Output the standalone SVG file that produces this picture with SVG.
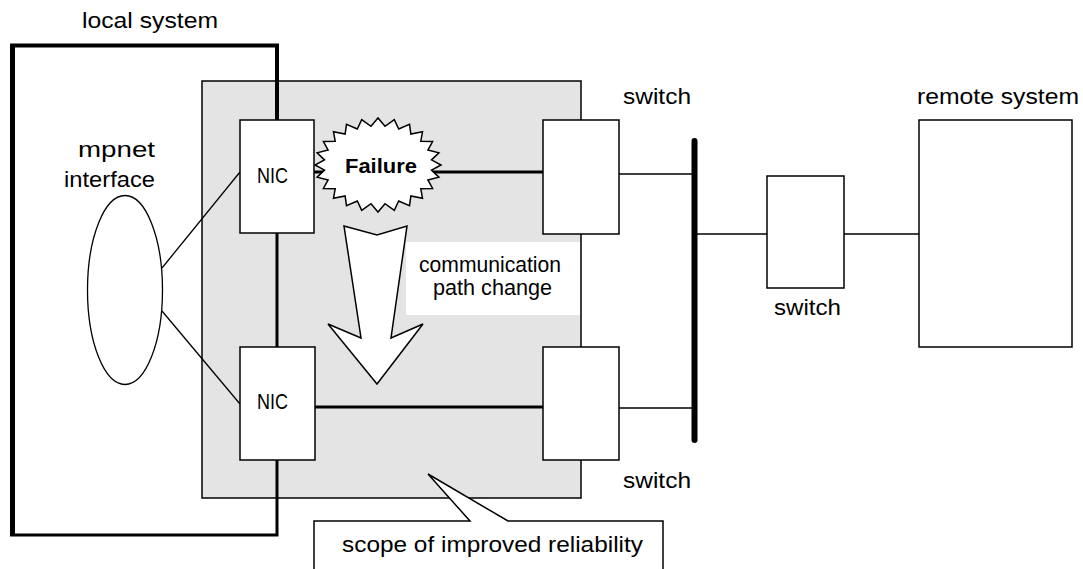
<svg xmlns="http://www.w3.org/2000/svg" width="1083" height="569" viewBox="0 0 1083 569">
<style>
text{font-family:"Liberation Sans",Arial,sans-serif;font-size:22px;fill:#000}
.b{font-weight:bold;font-size:21px}
.box{fill:#fff;stroke:#000;stroke-width:1.5}
.thin{stroke:#000;stroke-width:1.3;fill:none}
.thick{stroke:#000;stroke-width:3;fill:none}
</style>
<rect width="1083" height="569" fill="#fff"/>
<g id="scope">
<rect x="202" y="81" width="379" height="417" fill="#e4e4e4" stroke="#000" stroke-width="1.5"/>
<rect x="406" y="242" width="174" height="73" fill="#fff"/>
</g>
<g id="local-system">
<path d="M12.5,47 V535" stroke="#000" stroke-width="5" fill="none"/>
<path d="M10,45.5 H277 V120" stroke="#000" stroke-width="4" fill="none"/>
<path d="M10,535 H277 V460 M277,233 V347" class="thick"/>
<text x="82" y="28" textLength="136" lengthAdjust="spacingAndGlyphs">local system</text>
</g>
<g id="connectors">
<line x1="162" y1="268" x2="240" y2="172" class="thin"/>
<line x1="162" y1="311" x2="240" y2="404" class="thin"/>
<line x1="314" y1="172" x2="543" y2="172" class="thick"/>
<line x1="315" y1="407" x2="543" y2="407" class="thick"/>
<line x1="619" y1="174" x2="692" y2="174" class="thin"/>
<line x1="619" y1="408" x2="692" y2="408" class="thin"/>
<line x1="697" y1="234" x2="767" y2="234" class="thin"/>
<line x1="844" y1="234" x2="919" y2="234" class="thin"/>
<line x1="694.5" y1="141" x2="694.5" y2="440" stroke="#000" stroke-width="6" stroke-linecap="round"/>
</g>
<g id="mpnet">
<ellipse cx="125" cy="290" rx="37.5" ry="94.5" class="thin"/>
<text x="78" y="157" textLength="77" lengthAdjust="spacingAndGlyphs">mpnet</text>
<text x="64" y="187" textLength="91" lengthAdjust="spacingAndGlyphs">interface</text>
</g>
<g id="nic1">
<rect x="240" y="120" width="74" height="113" class="box"/>
<text x="257" y="183" textLength="31" lengthAdjust="spacingAndGlyphs">NIC</text>
</g>
<g id="nic2">
<rect x="240" y="347" width="75" height="113" class="box"/>
<text x="257" y="409" textLength="31" lengthAdjust="spacingAndGlyphs">NIC</text>
</g>
<g id="failure">
<polygon class="box" stroke-width="1.3" points="441,165 431.5,170.1 438.9,177.2 427.9,179.9 432.6,188.5 420.8,188.7 422.5,198.2 410.9,195.9 409.5,205.7 398.7,201 394.3,210.4 385,203.7 378,212 371,203.7 361.7,210.4 357.3,201 346.5,205.7 345.1,195.9 333.5,198.2 335.2,188.7 323.4,188.5 328.1,179.9 317.1,177.2 324.5,170.1 315,165 324.5,159.9 317.1,152.8 328.1,150.1 323.4,141.5 335.2,141.3 333.5,131.8 345.1,134.1 346.5,124.3 357.3,129 361.7,119.6 371,126.3 378,118 385,126.3 394.3,119.6 398.7,129 409.5,124.3 410.9,134.1 422.5,131.8 420.8,141.3 432.6,141.5 427.9,150.1 438.9,152.8 431.5,159.9"/>
<text class="b" x="345" y="173" textLength="72" lengthAdjust="spacingAndGlyphs">Failure</text>
</g>
<g id="path-change">
<polygon class="box" stroke-width="1.3" points="344,226 377,235 407,226 391,338 423,324 377,384 328,324 361,338"/>
<text x="419" y="272" textLength="142" lengthAdjust="spacingAndGlyphs">communication</text>
<text x="433" y="295" textLength="119" lengthAdjust="spacingAndGlyphs">path change</text>
</g>
<g id="switch1">
<rect x="543" y="120" width="76" height="114" class="box"/>
<text x="623" y="104" textLength="68" lengthAdjust="spacingAndGlyphs">switch</text>
</g>
<g id="switch2">
<rect x="543" y="347" width="76" height="113" class="box"/>
<text x="623" y="488" textLength="68" lengthAdjust="spacingAndGlyphs">switch</text>
</g>
<g id="switch3">
<rect x="767" y="176" width="77" height="112" class="box"/>
<text x="774" y="315" textLength="67" lengthAdjust="spacingAndGlyphs">switch</text>
</g>
<g id="remote-system">
<rect x="919" y="120" width="153" height="227" class="box"/>
<text x="917" y="104" textLength="162" lengthAdjust="spacingAndGlyphs">remote system</text>
</g>
<g id="callout">
<path d="M470,521 L428,474 L508,521 L663,521 L663,575 L314,575 L314,521 Z" class="box"/>
<text x="342" y="552" textLength="301" lengthAdjust="spacingAndGlyphs">scope of improved reliability</text>
</g>
</svg>
